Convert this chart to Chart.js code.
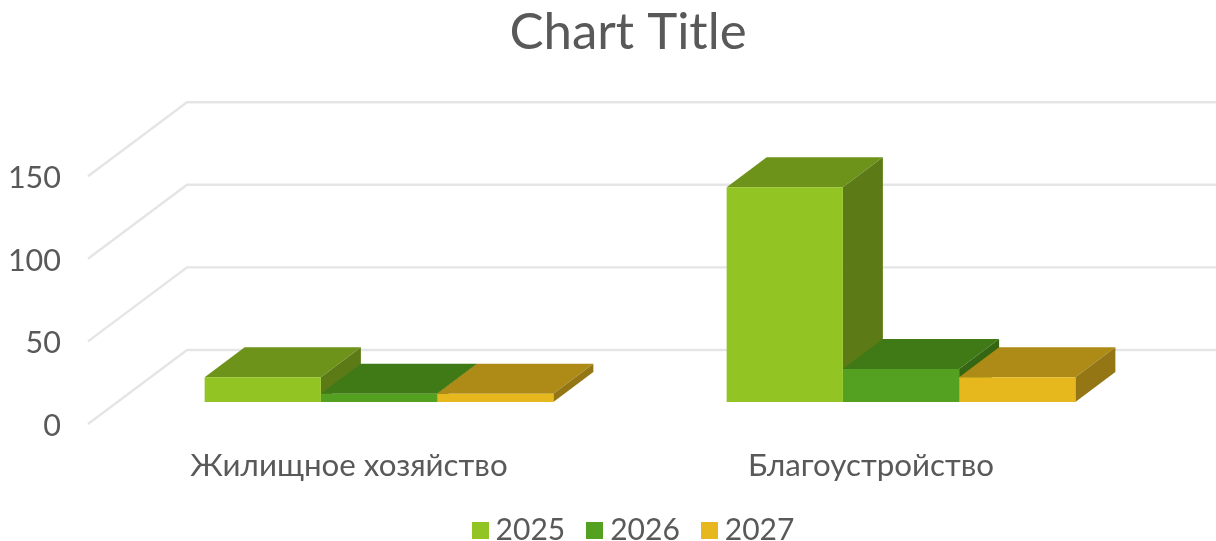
<!DOCTYPE html>
<html><head><meta charset="utf-8">
<style>
html,body{margin:0;padding:0;background:#fff;overflow:hidden;width:1216px;height:541px}
#wrap{width:1216px;height:541px;overflow:hidden;position:relative}
#box{position:absolute;left:0;top:0;width:1256px;height:541px}
canvas{filter:blur(0.45px)}
</style>
<script src="https://cdn.jsdelivr.net/npm/chart.js@4"></script>
</head><body><div id="wrap"><div id="box"><canvas id="c"></canvas></div></div>
<script>
const categories = ['Жилищное хозяйство', 'Благоустройство'];
const seriesNames = ['2025', '2026', '2027'];
const values2025 = [15, 130];
const values2026 = [5, 20];
const values2027 = [5, 15];
const frontColors = ['#92C423', '#54A021', '#E6B81D'];
const topColors = ['#6E931A', '#3F7A16', '#AE8B16'];
const sideColors = ['#5C7B16', '#356612', '#957614'];
const FONT = 'Lato';
const TEXT = '#595959';
const WALL = {dx: 99, dy: -74}, SHIFT = {dx: 30, dy: -22}, DEPTH = {dx: 40, dy: -30};

function swatch(color) {
  const s = document.createElement('canvas');
  s.width = 17; s.height = 17;
  const g = s.getContext('2d'); g.fillStyle = color; g.fillRect(0, 0, 17, 17);
  return s;
}
function poly(ctx, pts, fill) {
  ctx.beginPath();
  pts.forEach((p, i) => i ? ctx.lineTo(p[0], p[1]) : ctx.moveTo(p[0], p[1]));
  ctx.closePath(); ctx.fillStyle = fill; ctx.fill();
}
const bars3d = {
  id: 'bars3d',
  afterLayout(chart) { chart.legend.left += 9; chart.legend.right += 9; },
  beforeDatasetsDraw(chart) {
    const ctx = chart.ctx, {x, y} = chart.scales;
    ctx.save();
    ctx.strokeStyle = '#E5E5E5'; ctx.lineWidth = 2.4;
    y.ticks.forEach((t, i) => {
      const py = y.getPixelForTick(i);
      ctx.beginPath();
      ctx.moveTo(x.left, py);
      ctx.lineTo(x.left + WALL.dx, py + WALL.dy);
      ctx.lineTo(x.right + WALL.dx, py + WALL.dy);
      ctx.stroke();
    });
    ctx.restore();
    ctx.save();
    ctx.translate(SHIFT.dx, SHIFT.dy);
    categories.forEach((_, ci) => {
      seriesNames.forEach((_, si) => {
        const el = chart.getDatasetMeta(si).data[ci];
        const L = el.x - el.width / 2, R = el.x + el.width / 2, T = el.y, B = el.base;
        const d = DEPTH;
        poly(ctx, [[L, T], [R, T], [R + d.dx, T + d.dy], [L + d.dx, T + d.dy]], topColors[si]);
        poly(ctx, [[R, T], [R + d.dx, T + d.dy], [R + d.dx, B + d.dy], [R, B]], sideColors[si]);
      });
    });
  },
  afterDatasetsDraw(chart) { chart.ctx.restore(); }
};
const allValues = [values2025, values2026, values2027];
new Chart(document.getElementById('c'), {
  type: 'bar',
  data: {
    labels: categories,
    datasets: seriesNames.map((n, i) => ({
      label: n, data: allValues[i],
      backgroundColor: frontColors[i], borderWidth: 0, clip: false,
      categoryPercentage: 0.668, barPercentage: 1
    }))
  },
  plugins: [bars3d],
  options: {
    responsive: true, maintainAspectRatio: false, animation: false,
    devicePixelRatio: 1,
    layout: {padding: {left: 0, right: 0, top: 0, bottom: -14}},
    plugins: {
      tooltip: {enabled: false},
      title: {display: true, text: 'Chart Title', color: TEXT,
        font: {family: FONT, size: 51, weight: 'normal'},
        padding: {top: 2, bottom: 113}},
      legend: {position: 'bottom',
        labels: {usePointStyle: true, pointStyleWidth: 1, boxHeight: 17, padding: 29,
          color: TEXT, font: {family: FONT, size: 30},
          generateLabels(chart) {
            return Chart.defaults.plugins.legend.labels.generateLabels(chart).map((l, i) => {
              l.pointStyle = swatch(frontColors[i]); return l;
            });
          }}}
    },
    scales: {
      x: {grid: {display: false}, border: {display: false},
        ticks: {color: TEXT, font: {family: FONT, size: 31.3}, padding: 15, maxRotation: 0},
        afterFit(s) { s.height = 62; }},
      y: {min: 0, max: 150, grid: {display: false}, border: {display: false},
        ticks: {stepSize: 50, color: TEXT, font: {family: FONT, size: 30.5}, padding: 19, labelOffset: 2},
        afterFit(s) { s.width = 88; }},
      spacer: {position: 'right', display: true, grid: {display: false}, border: {display: false},
        ticks: {display: false},
        afterFit(s) { s.width = 124; }}
    }
  }
});
</script></body></html>
